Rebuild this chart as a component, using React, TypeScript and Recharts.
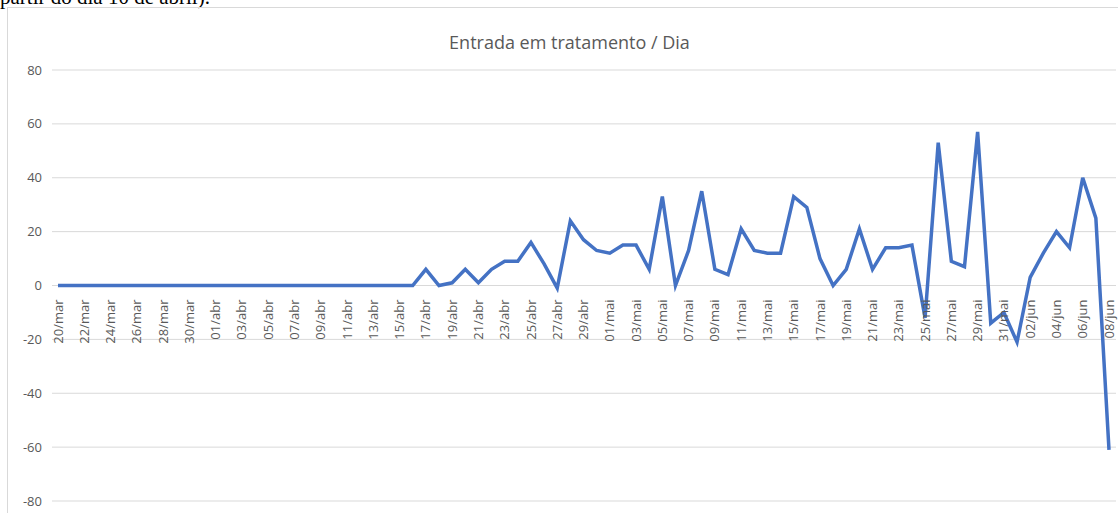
import { LineChart, Line, XAxis, YAxis, CartesianGrid } from "recharts";

const dates = [
  "20/mar", "21/mar", "22/mar", "23/mar", "24/mar", "25/mar", "26/mar", "27/mar", "28/mar", "29/mar", "30/mar", "31/mar",
  "01/abr", "02/abr", "03/abr", "04/abr", "05/abr", "06/abr", "07/abr", "08/abr", "09/abr", "10/abr",
  "11/abr", "12/abr", "13/abr", "14/abr", "15/abr", "16/abr", "17/abr", "18/abr", "19/abr", "20/abr",
  "21/abr", "22/abr", "23/abr", "24/abr", "25/abr", "26/abr", "27/abr", "28/abr", "29/abr", "30/abr",
  "01/mai", "02/mai", "03/mai", "04/mai", "05/mai", "06/mai", "07/mai", "08/mai", "09/mai", "10/mai",
  "11/mai", "12/mai", "13/mai", "14/mai", "15/mai", "16/mai", "17/mai", "18/mai", "19/mai", "20/mai",
  "21/mai", "22/mai", "23/mai", "24/mai", "25/mai", "26/mai", "27/mai", "28/mai", "29/mai", "30/mai", "31/mai",
  "01/jun", "02/jun", "03/jun", "04/jun", "05/jun", "06/jun", "07/jun", "08/jun",
];

const entradas = [
  0, 0, 0, 0, 0, 0, 0, 0, 0, 0, 0, 0,
  0, 0, 0, 0, 0, 0, 0, 0, 0, 0,
  0, 0, 0, 0, 0, 0, 6, 0, 1, 6,
  1, 6, 9, 9, 16, 8, -1, 24, 17, 13,
  12, 15, 15, 6, 33, 0, 13, 35, 6, 4,
  21, 13, 12, 12, 33, 29, 10, 0, 6, 21,
  6, 14, 14, 15, -12, 53, 9, 7, 57, -14, -10,
  -21, 3, 12, 20, 14, 40, 25, -61,
];

const yTicks = [-80, -60, -40, -20, 0, 20, 40, 60, 80];

const Y_MIN = -80;
const Y_MAX = 80;
const PLOT_H = 431;

const data = dates.map((d, i) => ({ dia: d, valor: entradas[i] }));

// Excel puts the category labels on the zero line, not at the bottom
const zeroOffset = (PLOT_H * (0 - Y_MIN)) / (Y_MAX - Y_MIN);

function DateTick(props: any) {
  const { x, y, payload } = props;
  const ty = y - zeroOffset + 6;
  return (
    <text
      transform={`translate(${x},${ty}) rotate(-90)`}
      textAnchor="end"
      dy="0.35em"
      fill="#595959"
      fontSize={13}
      fontFamily="'Open Sans', sans-serif"
    >
      {payload.value}
    </text>
  );
}

export default function App() {
  return (
    <div style={{ position: "fixed", left: 0, top: 0, width: 1118, height: 513, overflow: "hidden", background: "#fff" }}>
      <div
        style={{
          position: "absolute",
          left: 0,
          top: -13,
          fontFamily: "'Liberation Serif', 'Times New Roman', serif",
          fontSize: 21,
          lineHeight: 1,
          color: "#000",
          whiteSpace: "nowrap",
        }}
      >
        partir do dia 10 de abril).
      </div>
      <div
        style={{
          position: "absolute",
          left: 7,
          top: 7,
          width: 1130,
          height: 520,
          border: "1px solid #d9d9d9",
        }}
      >
        <div
          style={{
            position: "absolute",
            left: 0,
            width: 1123,
            top: 22,
            textAlign: "center",
            fontFamily: "'Open Sans', sans-serif",
            fontSize: 18,
            color: "#595959",
          }}
        >
          Entrada em tratamento / Dia
        </div>
        <LineChart
          width={1122}
          height={505}
          data={data}
          margin={{ top: 62, right: 14, bottom: 11, left: 0 }}
          style={{ position: "absolute", left: 0, top: 0 }}
        >
          <CartesianGrid vertical={false} stroke="#d9d9d9" strokeWidth={1} />
          <XAxis
            dataKey="dia"
            interval={1}
            height={1}
            axisLine={false}
            tickLine={false}
            tick={<DateTick />}
            padding={{ left: 6, right: 7 }}
          />
          <YAxis
            width={44}
            domain={[Y_MIN, Y_MAX]}
            ticks={yTicks}
            axisLine={false}
            tickLine={false}
            tickMargin={4}
            tick={{ fill: "#595959", fontSize: 13, fontFamily: "'Open Sans', sans-serif" }}
          />
          <Line
            type="linear"
            dataKey="valor"
            stroke="#4472C4"
            strokeWidth={3.5}
            dot={false}
            isAnimationActive={false}
          />
        </LineChart>
      </div>
    </div>
  );
}
